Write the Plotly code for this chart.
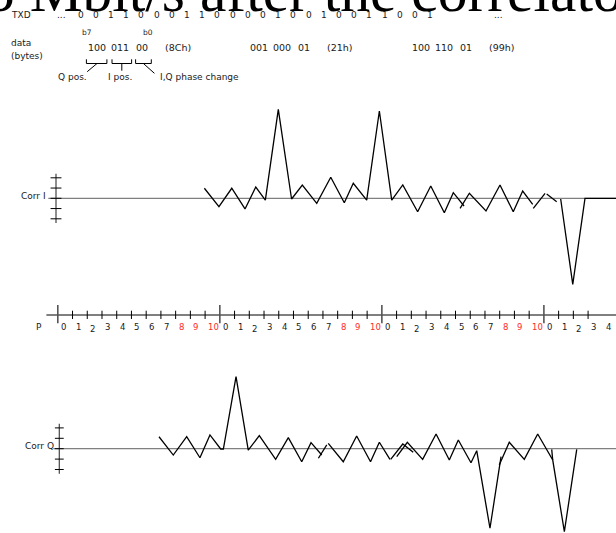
import plotly.graph_objects as go

# ---------------- data ----------------
txd_bits = [0, 0, 1, 1, 0, 0, 0, 1, 1, 0, 0, 0, 0, 1, 0, 0, 1, 0, 0, 1, 1, 0, 0, 1]
data_bytes = [0x8C, 0x21, 0x99]
byte_names = ["(8Ch)", "(21h)", "(99h)"]
p_count = 38            # number of P labels drawn (0..10 repeating)
p_period = 11
red_p = [8, 9, 10]
corr_ticks = [-2, -1, 0, 1, 2]

# correlator I output: sample position (P units) / amplitude, segments of the drawing
corr_i_k = [
    [9.95, 10.94, 11.81, 12.71, 13.44, 14.09, 14.97, 15.87, 16.60, 17.58, 18.53, 19.45,
     20.06, 20.79, 20.97, 21.83, 22.67, 23.42, 24.43, 25.32, 26.24, 26.85, 27.58],
    [27.31, 27.94, 29.07, 30.02, 30.92, 31.56, 32.24],
    [32.28, 33.08],
    [33.19, 33.87],
    [34.14, 34.96, 35.79, 38.0],
]
corr_i_val = [
    [0.98, -0.82, 0.98, -1.04, 1.10, -0.17, 8.68, -0.07, 1.30, -0.49, 2.05, -0.43,
     1.46, 0.16, -0.17, 8.52, -0.17, 1.30, -1.31, 1.20, -1.41, 0.55, -0.75],
    [-0.98, 0.49, -1.24, 1.30, -1.31, 0.71, -0.59],
    [-0.98, 0.49],
    [0.42, -0.33],
    [-0.07, -8.39, 0.0, 0.0],
]
# correlator Q output
corr_q_k = [
    [6.87, 7.84, 8.75, 9.65, 10.33, 11.06, 11.24, 12.10, 12.93, 13.68, 14.79, 15.65,
     16.56, 17.19, 17.92],
    [17.69, 18.26],
    [18.36, 19.38, 20.29, 21.23, 21.83, 22.55],
    [22.60, 23.42, 24.13],
    [23.01, 23.73, 24.77, 25.68, 26.58, 27.19, 28.05, 28.44, 29.34, 30.09],
    [29.97, 30.65, 31.67, 32.58, 33.60, 34.39, 35.23],
    [33.53, 33.60],
]
corr_q_val = [
    [1.15, -0.61, 1.15, -0.87, 1.32, -0.03, -0.03, 6.92, -0.13, 1.25, -1.02, 1.06,
     -1.25, 0.58, -0.61],
    [-0.92, 0.36],
    [0.52, -1.25, 1.22, -1.25, 0.62, -1.02],
    [-1.02, 0.45, -0.35],
    [-0.77, 0.62, -1.02, 1.41, -1.09, 0.84, -1.35, -0.19, -7.65, -0.77],
    [-1.57, 0.62, -1.02, 1.41, -1.09, -7.98, -0.06],
    [-0.06, -1.09],
]

# ---------------- layout constants (screen pixels) ----------------
SW, SH = 616, 533             # browser window / figure size
X0, DX = 57.8, 14.73          # P=0 position, px per sample
I0, DI = 198.3, 10.25         # Corr I baseline, px per unit
Q0, DQ = 448.7, 10.4          # Corr Q baseline, px per unit
PY = 315.0                    # P axis line
B0, DB = 80.5, 15.2           # TXD bit positions
SANS = "DejaVu Sans"
SERIF = "Liberation Serif"
TXT = "#1a1a1a"
GRAY = "#808080"


def kx(px):
    return (px - X0) / DX


def flat(segs):
    out = []
    for s in segs:
        out += list(s) + [None]
    return out[:-1]


fig = go.Figure()


def line(x, y, yaxis="y", color="black", width=1.0):
    fig.add_trace(go.Scatter(x=x, y=y, mode="lines", xaxis="x", yaxis=yaxis,
                             line=dict(color=color, width=width),
                             hoverinfo="skip", showlegend=False))


k_end = kx(SW)

# ----- Corr I -----
line([kx(48.3), k_end], [0, 0], "y", GRAY, 1.2)
ax_i = kx(56.0)
line([ax_i, ax_i], [-2.4, 2.4], "y", "#444", 1.2)
tx, ty = [], []
for t in corr_ticks:
    tx += [ax_i - 0.37, ax_i + 0.37, None]
    ty += [t, t, None]
line(tx, ty, "y", "black", 1.0)
line(flat(corr_i_k), flat(corr_i_val), "y", "black", 1.3)

# ----- Corr Q -----
line([kx(53.3), k_end], [0, 0], "y2", GRAY, 1.2)
ax_q = kx(59.3)
line([ax_q, ax_q], [-2.4, 2.4], "y2", "#444", 1.2)
tx, ty = [], []
for t in corr_ticks:
    tx += [ax_q - 0.30, ax_q + 0.30, None]
    ty += [t, t, None]
line(tx, ty, "y2", "black", 1.0)
line(flat(corr_q_k), flat(corr_q_val), "y2", "black", 1.3)

# ----- P axis -----
line([kx(46.4), k_end], [PY, PY], "y3", "black", 1.0)
mnx, mny, mjx, mjy = [], [], [], []
for k in range(p_count - 1):
    if k % p_period == 0:
        mjx += [k, k, None]
        mjy += [PY - 10, PY + 8.3, None]
    else:
        mnx += [k, k, None]
        mny += [PY - 4.3, PY + 4.0, None]
line(mnx, mny, "y3", "black", 1.0)
line(mjx, mjy, "y3", "#555", 1.6)

# ----- header decorations (brackets below first byte) -----
bx, by = [], []
for a, b in [(86.4, 106.9), (112.0, 131.6), (135.6, 151.3)]:
    bx += [kx(a), kx(a), kx(b), kx(b), None]
    by += [59.3, 63.5, 63.5, 59.3, None]
for (a, ya), (b, yb) in [((97.0, 63.5), (87.2, 71.7)),
                         ((121.8, 63.5), (121.8, 70.7)),
                         ((143.4, 63.5), (154.4, 73.3))]:
    bx += [kx(a), kx(b), None]
    by += [ya, yb, None]
line(bx, by, "y3", "black", 1.0)

# ----- annotations -----
anns = []


def ann(text, x, y, size=9, color=TXT, xanchor="center", family=SANS, xref="paper",
        yref="paper", xshift=0):
    anns.append(dict(text=text, x=x, y=y, xref=xref, yref=yref, xanchor=xanchor,
                     yanchor="middle", showarrow=False, borderpad=0, borderwidth=0,
                     xshift=xshift, font=dict(family=family, size=size, color=color)))


def pp(px, py):
    return px / SW, 1 - py / SH


# title (cut off at top of the page)
x, y = pp(-15.5, -9.0)
ann("5 Mbit/s after the correlator", x, y, size=59.5, color="black", xanchor="left",
    family=SERIF)

# TXD row
ann("TXD", *pp(11, 15), size=9, xanchor="left")
ann("...", *pp(B0 + DB * -1.22, 15), size=9)
for i, b in enumerate(txd_bits):
    ann(str(b), *pp(B0 + DB * i, 15), size=9)
ann("...", *pp(B0 + DB * 27.5, 15), size=9)

# data bytes
ann("b7", *pp(87.4, 32.7), size=7.5)
ann("b0", *pp(148.0, 32.7), size=7.5)
ann("data", *pp(11, 43.3), size=9, xanchor="left")
ann("(bytes)", *pp(11, 56.0), size=9, xanchor="left")
for j, (v, nm) in enumerate(zip(data_bytes, byte_names)):
    bits = format(v, "08b")
    groups = [bits[0:3], bits[3:6], bits[6:8]]
    kb = 2.63 + p_period * j
    for g, off in zip(groups + [nm], [0.0, 1.62, 3.06, 5.5]):
        ann(g, kb + off, 47.7, size=9.5, xref="x", yref="y3")

ann("Q pos.", *pp(72.1, 76.7), size=9)
ann("I pos.", *pp(120.4, 76.7), size=9)
ann("I,Q phase change", *pp(199.7, 76.7), size=9)

# axis labels
ann("Corr I", *pp(45.5, 196.0), size=9, xanchor="right")
ann("Corr Q", *pp(53.5, 446.0), size=9, xanchor="right")
ann("P", *pp(39.3, 327.3), size=9)

for k in range(p_count):
    lab = k % p_period
    col = "#ff2a2a" if lab in red_p else TXT
    yy = 327.3 + (2.0 if lab == 2 else 0.0)
    ann(str(lab), k, yy, size=8.5, color=col, xanchor="left", xref="x", yref="y3",
        xshift=3)

fig.update_layout(
    width=SW, height=SH, autosize=False,
    margin=dict(l=0, r=0, t=0, b=0),
    paper_bgcolor="white", plot_bgcolor="white", showlegend=False,
    xaxis=dict(range=[kx(0), kx(SW)], visible=False, domain=[0, 1], fixedrange=True),
    yaxis=dict(range=[-(SH - I0) / DI, I0 / DI], visible=False, domain=[0, 1]),
    yaxis2=dict(range=[-(SH - Q0) / DQ, Q0 / DQ], visible=False, overlaying="y"),
    yaxis3=dict(range=[SH, 0], visible=False, overlaying="y"),
    annotations=anns,
)

fig.write_html(
    "out.html",
    config={"displayModeBar": False},
    post_script="document.body.style.margin='0px';document.body.style.overflow='hidden';",
)
